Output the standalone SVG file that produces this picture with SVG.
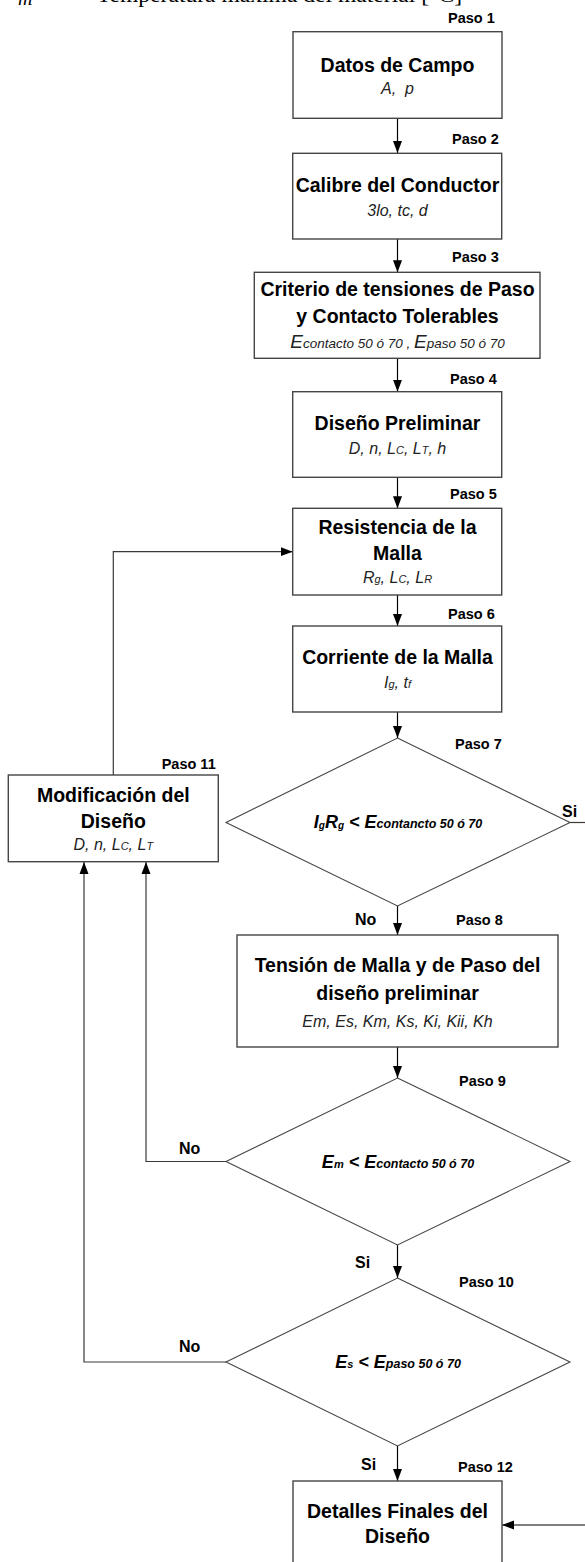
<svg xmlns="http://www.w3.org/2000/svg" width="585" height="1562" viewBox="0 0 585 1562">
<style>
text{font-family:"Liberation Sans",Arial,sans-serif;fill:#000}
.box{fill:#fff;stroke:#454545;stroke-width:1.4}
.dia{fill:#fff;stroke:#454545;stroke-width:1.1}
.t{font-size:19.5px;font-weight:bold;text-anchor:middle}
.s{font-size:16px;font-style:italic;text-anchor:middle;fill:#222}
.sub{font-size:11px}
.e{font-size:19px}
.es{font-size:13.5px}
.paso{font-size:14.5px;font-weight:bold}
.yn{font-size:16px;font-weight:bold}
.dec{font-size:18px;font-weight:bold;font-style:italic;text-anchor:middle}
.dg{font-size:10px}
.dm{font-size:11px}
.dsub{font-size:12.5px}
.con{fill:none;stroke:#000;stroke-width:1.2}
.fb{fill:none;stroke:#3a3a3a;stroke-width:1.2}
.top{font-family:"Liberation Serif","Times New Roman",serif;font-size:20px}
</style>
<defs>
<marker id="ah" markerWidth="12" markerHeight="10" refX="12" refY="5" orient="auto" markerUnits="userSpaceOnUse">
<path d="M0,0.5 L12,5 L0,9.5 z" fill="#000"/>
</marker>
</defs>

<g id="page-header">
<text class="top" x="18" y="5" font-style="italic" font-size="15">m</text>
<text class="top" x="78" y="2" textLength="384" lengthAdjust="spacingAndGlyphs">= Temperatura máxima del material [°C]</text>
</g>

<g id="connectors">
<line class="con" x1="397.5" y1="118.3" x2="397.5" y2="153" marker-end="url(#ah)"/>
<line class="con" x1="397.5" y1="239" x2="397.5" y2="272.3" marker-end="url(#ah)"/>
<line class="con" x1="397.5" y1="358.3" x2="397.5" y2="391.7" marker-end="url(#ah)"/>
<line class="con" x1="397.5" y1="477.3" x2="397.5" y2="508.3" marker-end="url(#ah)"/>
<line class="con" x1="397.5" y1="595" x2="397.5" y2="626" marker-end="url(#ah)"/>
<line class="con" x1="397.5" y1="712" x2="397.5" y2="738" marker-end="url(#ah)"/>
<line class="con" x1="397.5" y1="906" x2="397.5" y2="935" marker-end="url(#ah)"/>
<line class="con" x1="397.5" y1="1047" x2="397.5" y2="1078" marker-end="url(#ah)"/>
<line class="con" x1="397.5" y1="1245" x2="397.5" y2="1278" marker-end="url(#ah)"/>
<line class="con" x1="397.5" y1="1446" x2="397.5" y2="1481" marker-end="url(#ah)"/>
<path class="fb" d="M113.3,775 V551.7 H292.7" marker-end="url(#ah)"/>
<path class="fb" d="M226,1161.5 H146 V862" marker-end="url(#ah)"/>
<path class="fb" d="M226,1362 H84 V862" marker-end="url(#ah)"/>
<path class="fb" d="M570,822.5 H586"/>
<path class="con" d="M590,1525 H502" marker-end="url(#ah)"/>
<text class="yn" x="562" y="817">Si</text>
<text class="yn" x="355" y="925">No</text>
<text class="yn" x="179" y="1154">No</text>
<text class="yn" x="355" y="1268">Si</text>
<text class="yn" x="179" y="1351.7">No</text>
<text class="yn" x="361" y="1470">Si</text>
</g>

<g id="paso1">
<text class="paso" x="448" y="23.3">Paso 1</text>
<rect class="box" x="293" y="31.7" width="209" height="86.6"/>
<text class="t" x="397.5" y="71.7">Datos de Campo</text>
<text class="s" x="397.5" y="94" xml:space="preserve">A,  p</text>
</g>

<g id="paso2">
<text class="paso" x="452" y="144">Paso 2</text>
<rect class="box" x="292.7" y="153.3" width="209" height="85.7"/>
<text class="t" x="397.5" y="192">Calibre del Conductor</text>
<text class="s" x="397.5" y="216">3lo, tc, d</text>
</g>

<g id="paso3">
<text class="paso" x="452" y="261.7">Paso 3</text>
<rect class="box" x="254.3" y="272.3" width="285.7" height="86"/>
<text class="t" x="397.5" y="296">Criterio de tensiones de Paso</text>
<text class="t" x="397.5" y="322.7">y Contacto Tolerables</text>
<text class="s" x="397.5" y="348" xml:space="preserve"><tspan class="e">E</tspan><tspan class="es">contacto 50 ó 70 , </tspan><tspan class="e">E</tspan><tspan class="es">paso 50 ó 70</tspan></text>
</g>

<g id="paso4">
<text class="paso" x="450" y="384">Paso 4</text>
<rect class="box" x="292.7" y="391.7" width="209" height="85.6"/>
<text class="t" x="397.5" y="430">Diseño Preliminar</text>
<text class="s" x="397.5" y="454" font-size="17">D, n, L<tspan class="sub">C</tspan>, L<tspan class="sub">T</tspan>, h</text>
</g>

<g id="paso5">
<text class="paso" x="450" y="499">Paso 5</text>
<rect class="box" x="292.7" y="508.3" width="209" height="86.7"/>
<text class="t" x="397.5" y="534">Resistencia de la</text>
<text class="t" x="397.5" y="560">Malla</text>
<text class="s" x="397.5" y="583" font-size="17">R<tspan class="sub">g</tspan>, L<tspan class="sub">C</tspan>, L<tspan class="sub">R</tspan></text>
</g>

<g id="paso6">
<text class="paso" x="448" y="619">Paso 6</text>
<rect class="box" x="292.7" y="626" width="209" height="86"/>
<text class="t" x="397.5" y="664">Corriente de la Malla</text>
<text class="s" x="397.5" y="688" font-size="17">I<tspan class="sub">g</tspan>, t<tspan class="sub">f</tspan></text>
</g>

<g id="paso7">
<text class="paso" x="455" y="749">Paso 7</text>
<polygon class="dia" points="397.5,738 570,822.5 397.5,906 226,822.5"/>
<text class="dec" x="398" y="828">I<tspan class="dg" dy="1">g</tspan><tspan dy="-1">R</tspan><tspan class="dg" dy="1">g</tspan><tspan dy="-1"> &lt; E</tspan><tspan class="dsub">contancto 50 ó 70</tspan></text>
</g>

<g id="paso8">
<text class="paso" x="456" y="925">Paso 8</text>
<rect class="box" x="237" y="935" width="321" height="112"/>
<text class="t" x="397.5" y="971.7">Tensión de Malla y de Paso del</text>
<text class="t" x="397.5" y="1000">diseño preliminar</text>
<text class="s" x="397.5" y="1027">Em, Es, Km, Ks, Ki, Kii, Kh</text>
</g>

<g id="paso9">
<text class="paso" x="459" y="1086">Paso 9</text>
<polygon class="dia" points="397.5,1078 570,1161.5 397.5,1245 226,1161.5"/>
<text class="dec" x="398" y="1167.7">E<tspan class="dm">m</tspan> &lt; E<tspan class="dsub">contacto 50 ó 70</tspan></text>
</g>

<g id="paso10">
<text class="paso" x="459" y="1287">Paso 10</text>
<polygon class="dia" points="397.5,1278 570,1362 397.5,1446 226,1362"/>
<text class="dec" x="398" y="1368">E<tspan class="dm">s</tspan> &lt; E<tspan class="dsub">paso 50 ó 70</tspan></text>
</g>

<g id="paso11">
<text class="paso" x="161.7" y="769">Paso 11</text>
<rect class="box" x="8.3" y="775" width="210" height="86.7"/>
<text class="t" x="113.3" y="801.7">Modificación del</text>
<text class="t" x="113.3" y="828">Diseño</text>
<text class="s" x="113.3" y="850">D, n, L<tspan class="sub">C</tspan>, L<tspan class="sub">T</tspan></text>
</g>

<g id="paso12">
<text class="paso" x="458" y="1471.7">Paso 12</text>
<rect class="box" x="293" y="1481" width="209" height="110"/>
<text class="t" x="397.5" y="1518">Detalles Finales del</text>
<text class="t" x="397.5" y="1543">Diseño</text>
</g>
</svg>
